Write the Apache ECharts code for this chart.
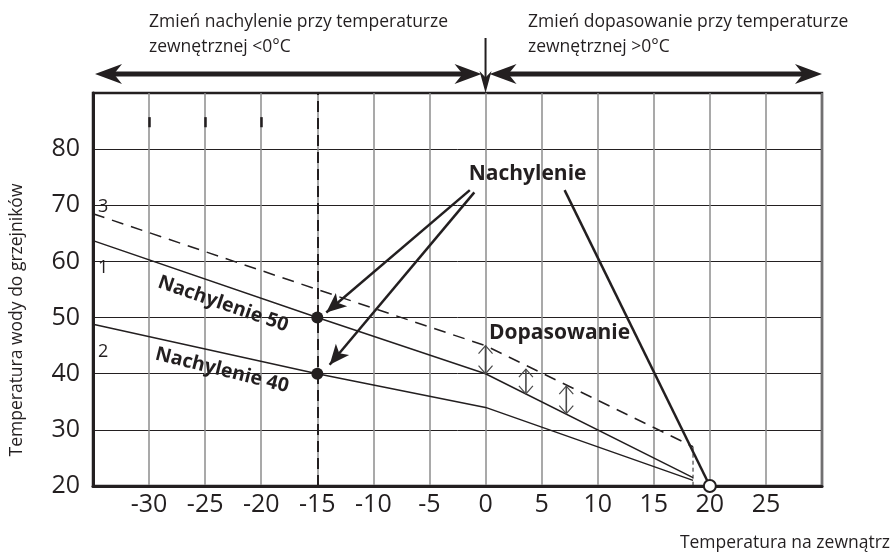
<!DOCTYPE html>
<html>
<head>
<meta charset="utf-8">
<script src="https://cdn.jsdelivr.net/npm/echarts@6/dist/echarts.min.js"></script>
<style>
    html, body {margin: 0; padding: 0; background: #fff;}
    #main {width: 890px; height: 554px;}
</style>
</head>
<body>
<div id="main"></div>
<script>
    // axes
    var xMin = -35, xMax = 30, xStep = 5;
    var yMin = 20, yMax = 90, yStep = 10;
    var xName = 'Temperatura na zewnątrz';
    var yName = 'Temperatura wody do grzejników';

    // curves (outdoor temp, water temp)
    var curve1 = [[-35, 63.7], [-15, 50], [0, 40], [18.5, 21.5]];
    var curve2 = [[-35, 48.8], [-15, 40], [0, 34], [18.5, 21]];
    var curve3 = [[-35, 68.5], [-15, 55], [0, 45], [18.5, 27]];
    var curve3Drop = [[18.5, 27], [18.5, 20]];
    var slopePoints = [[-15, 50], [-15, 40]];
    var basePoint = [[20, 20]];
    // offset arrows: x, low, high
    var offsetArrows = [[0, 40, 45], [3.6, 36.4, 40.8], [7.2, 32.9, 37.8]];
    // leader lines from "Nachylenie"
    var slopeLeader = [[7.05, 72.7], [20, 20]];
    var slopeArrows = [
        [[-1.4, 72.7], [-14.2, 50.9]],
        [[-1.0, 72.3], [-13.9, 41.6]]
    ];
    var markX = -15;
    // short dark marks on the upper grid lines
    var gridMarksX = [-30, -25, -20];
    var gridMarksY = [83.9, 85.7];

    // texts
    var curveNames = ['1', '2', '3'];
    var curveNamePos = [[-34.1, 58.8], [-34.1, 43.9], [-34.1, 69.8]];
    var boldTexts = ['Nachylenie 50', 'Nachylenie 40', 'Nachylenie', 'Dopasowanie'];
    var boldTextPos = [[-23.4, 52.4], [-23.5, 40.6], [3.75, 75.6], [6.6, 47.2]];
    var boldTextRot = [-19, -14, 0, 0];
    var boldTextSize = [19.5, 19.5, 21, 21];
    var topLeftText = ['Zmień nachylenie przy temperaturze', 'zewnętrznej <0°C'];
    var topRightText = ['Zmień dopasowanie przy temperaturze', 'zewnętrznej >0°C'];

    var ink = '#231f20';
    var numFont = '"Liberation Sans Narrow", "Open Sans", sans-serif';
    var txtFont = '"Open Sans", sans-serif';

    var labelData = [];
    curveNames.forEach(function (t, i) {
        labelData.push({
            value: curveNamePos[i],
            label: {show: true, formatter: t, position: 'inside', fontSize: 18, color: ink, fontFamily: txtFont}
        });
    });
    boldTexts.forEach(function (t, i) {
        labelData.push({
            value: boldTextPos[i],
            label: {
                show: true, formatter: t, position: 'inside', rotate: boldTextRot[i],
                fontSize: boldTextSize[i], fontWeight: 'bold', color: ink, fontFamily: txtFont
            }
        });
    });

    var chart = echarts.init(document.getElementById('main'));
    var option = {
        animation: false,
        grid: {
            left: 93, right: 68, top: 93, bottom: 68,
            show: true, borderColor: ink, borderWidth: 2.5
        },
        xAxis: {
            type: 'value', min: xMin, max: xMax, interval: xStep,
            axisLine: {show: true, onZero: false, lineStyle: {color: ink, width: 3}},
            axisTick: {show: false},
            axisLabel: {
                color: ink, fontSize: 25, fontFamily: numFont, margin: 6,
                showMinLabel: false, showMaxLabel: false
            },
            splitLine: {show: true, lineStyle: {color: '#8c8c8c', width: 1.5}}
        },
        yAxis: {
            type: 'value', min: yMin, max: yMax, interval: yStep,
            axisLine: {show: true, onZero: false, lineStyle: {color: ink, width: 3}},
            axisTick: {show: false},
            axisLabel: {
                color: ink, fontSize: 25, fontFamily: numFont, margin: 13,
                showMaxLabel: false
            },
            splitLine: {show: true, lineStyle: {color: ink, width: 1}}
        },
        series: [
            {
                type: 'line', data: curve1, symbol: 'none',
                lineStyle: {color: ink, width: 1.5},
                markLine: {
                    silent: true, symbol: 'none', label: {show: false},
                    lineStyle: {color: ink, width: 2, type: [11, 6]},
                    data: [{xAxis: markX}]
                }
            },
            {
                type: 'line', data: curve2, symbol: 'none', lineStyle: {color: ink, width: 1.5},
                markLine: {
                    silent: true, symbol: 'none', label: {show: false},
                    lineStyle: {color: ink, width: 2.5, type: 'solid'},
                    data: gridMarksX.map(function (x) {
                        return [{coord: [x, gridMarksY[0]]}, {coord: [x, gridMarksY[1]]}];
                    })
                }
            },
            {type: 'line', data: curve3, symbol: 'none', lineStyle: {color: ink, width: 1.5, type: [12, 8]}},
            {type: 'line', data: curve3Drop, symbol: 'none', lineStyle: {color: ink, width: 1, type: [4, 3]}},
            {
                type: 'line', data: slopeLeader, symbol: 'none', z: 5,
                lineStyle: {color: ink, width: 2.5},
                markLine: {
                    silent: true, symbol: ['none', 'arrow'], symbolSize: [13, 20],
                    label: {show: false},
                    lineStyle: {color: ink, width: 2.5, type: 'solid'},
                    data: slopeArrows.map(function (a) {
                        return [{coord: a[0]}, {coord: a[1]}];
                    })
                }
            },
            {
                type: 'scatter', data: slopePoints, symbolSize: 12, z: 6,
                itemStyle: {color: ink, opacity: 1}
            },
            {
                type: 'scatter', data: basePoint, symbolSize: 12, z: 6,
                itemStyle: {color: '#fff', borderColor: ink, borderWidth: 2, opacity: 1}
            },
            {
                type: 'custom', data: offsetArrows, z: 4,
                encode: {x: 0, y: [1, 2]},
                renderItem: function (params, api) {
                    var top = api.coord([api.value(0), api.value(2)]);
                    var bot = api.coord([api.value(0), api.value(1)]);
                    var w = 7, h = 8, c = '#4a4a4a';
                    return {
                        type: 'group', children: [
                            {type: 'line', shape: {x1: top[0], y1: top[1], x2: bot[0], y2: bot[1]},
                                style: {stroke: c, lineWidth: 1.6}},
                            {type: 'polyline', shape: {points: [[top[0] - w, top[1] + h], top, [top[0] + w, top[1] + h]]},
                                style: {stroke: c, fill: null, lineWidth: 1.2}},
                            {type: 'polyline', shape: {points: [[bot[0] - w, bot[1] - h], bot, [bot[0] + w, bot[1] - h]]},
                                style: {stroke: c, fill: null, lineWidth: 1.2}}
                        ]
                    };
                }
            },
            {
                type: 'scatter', data: labelData, symbolSize: 1, z: 7,
                itemStyle: {color: 'rgba(0,0,0,0)', opacity: 1}
            }
        ]
    };
    chart.setOption(option);

    // arrows and texts above the grid
    function head(tip, dir, len, half) {
        var bx = tip[0] - dir[0] * len, by = tip[1] - dir[1] * len;
        var nx = -dir[1], ny = dir[0];
        return [tip, [bx + nx * half, by + ny * half],
            [tip[0] - dir[0] * len * 0.7, tip[1] - dir[1] * len * 0.7],
            [bx - nx * half, by - ny * half]];
    }
    var pLeft = chart.convertToPixel({gridIndex: 0}, [xMin, yMax]);
    var pZero = chart.convertToPixel({gridIndex: 0}, [0, yMax]);
    var pRight = chart.convertToPixel({gridIndex: 0}, [xMax, yMax]);
    var ay = pLeft[1] - 19;
    var g = [];
    function bigArrow(x1, x2) {
        g.push({type: 'line', shape: {x1: x1 + 15, y1: ay, x2: x2 - 15, y2: ay},
            style: {stroke: ink, lineWidth: 5}});
        g.push({type: 'polygon', shape: {points: head([x1, ay], [-1, 0], 27, 10)}, style: {fill: ink}});
        g.push({type: 'polygon', shape: {points: head([x2, ay], [1, 0], 27, 10)}, style: {fill: ink}});
    }
    bigArrow(pLeft[0] + 2, pZero[0] - 4);
    bigArrow(pZero[0] + 4, pRight[0]);
    g.push({type: 'line', shape: {x1: pZero[0], y1: 38, x2: pZero[0], y2: pZero[1] - 12},
        style: {stroke: ink, lineWidth: 2}});
    g.push({type: 'polygon', shape: {points: head([pZero[0], pZero[1]], [0, 1], 22, 6)}, style: {fill: ink}});

    function textBlock(lines, x) {
        lines.forEach(function (t, i) {
            g.push({type: 'text', x: x, y: 22 + i * 25,
                style: {text: t, fill: ink, font: '17.5px ' + txtFont, textVerticalAlign: 'middle'}});
        });
    }
    textBlock(topLeftText, 149);
    textBlock(topRightText, 528);

    g.push({type: 'text', x: 17, y: 320, rotation: Math.PI / 2,
        style: {text: yName, fill: ink, font: '17.5px ' + txtFont, textAlign: 'center', textVerticalAlign: 'middle'}});
    g.push({type: 'text', right: 0, bottom: 2,
        style: {text: xName, fill: ink, font: '17.5px ' + txtFont}});

    chart.setOption({graphic: g});
</script>
</body>
</html>
